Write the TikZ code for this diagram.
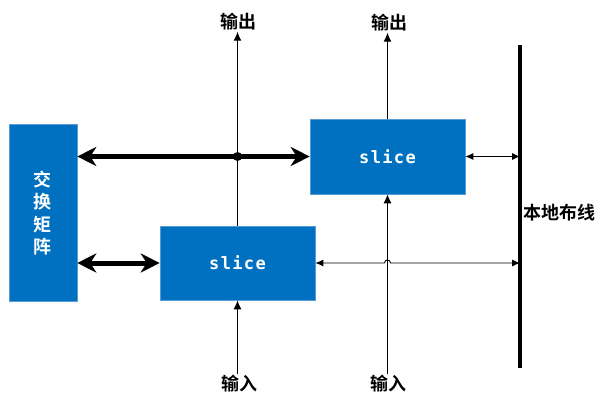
\documentclass[tikz,border=0pt]{standalone}
\usepackage{fontspec}
\newfontfamily\cjk{Noto Sans CJK SC}[BoldFont={* Bold}]
\newfontfamily\slicefont{DejaVu Sans Mono}[LetterSpace=8]
\usetikzlibrary{arrows.meta,positioning}
\definecolor{boxblue}{RGB}{0,112,192}
\definecolor{boxedge}{RGB}{91,155,213}
\tikzset{
  block/.style={fill=boxblue,draw=boxedge,line width=0.6pt,text=white,inner sep=0pt},
  lbl/.style={font=\cjk\bfseries\fontsize{18}{18}\selectfont,inner sep=1pt},
  thin/.style={line width=1.1pt,-{Latex[length=9pt,width=8pt]}},
  thick/.style={line width=5pt,{Stealth[length=19pt,width=19pt,inset=6pt]}-{Stealth[length=19pt,width=19pt,inset=6pt]}}
}
\begin{document}
\begin{tikzpicture}[x=1pt,y=-1pt]
\useasboundingbox (0,0) rectangle (611,396);
% blocks
\node[block,minimum width=68pt,minimum height=177pt,
  font=\cjk\bfseries\fontsize{18}{22.5}\selectfont,align=center] (xbar) at (43,213) {交\\换\\矩\\阵};
\node[block,minimum width=155pt,minimum height=74pt,
  font=\slicefont\bfseries\fontsize{17}{17}\selectfont] (sliceA) at (237.5,263) {slice};
\node[block,minimum width=155pt,minimum height=75pt,
  font=\slicefont\bfseries\fontsize{17}{17}\selectfont] (sliceB) at (387.5,156.5) {slice};
% local routing bus
\coordinate (busT) at (520,45);
\coordinate (busB) at (520,368);
\draw[line width=3.5pt] (busT) -- (busB);
\node[lbl,anchor=west] (busl) at (522,213) {本地布线};
% inputs and outputs
\node[lbl] (inA) at (239,384) {输入};
\node[lbl] (inB) at (388,384) {输入};
\node[lbl] (outA) at (238,22) {输出};
\node[lbl] (outB) at (389,23) {输出};
\draw[thin] (inA.north -| sliceA.south) -- (sliceA.south);
\draw[thin] (inB.north -| sliceB.south) -- (sliceB.south);
\draw[thin] (sliceA.north) -- (outA.south -| sliceA.north);
\draw[thin] (sliceB.north) -- (outB.south -| sliceB.north);
% links to the switch matrix
\draw[thick] (xbar.east |- sliceB.west) -- (sliceB.west);
\draw[thick] (xbar.east |- sliceA.west) -- (sliceA.west);
\fill (sliceA.north |- sliceB.west) circle (4.5pt);
% links to the bus
\draw[thin,{Latex[length=8pt,width=7pt]}-{Latex[length=8pt,width=7pt]},line width=0.9pt]
  (sliceB.east) -- (sliceB.east -| busT);
\draw[thin,{Latex[length=8pt,width=7pt]}-{Latex[length=8pt,width=7pt]},line width=0.9pt]
  (sliceA.east) -- ([xshift=-3pt]sliceB.south |- sliceA.east)
  arc[start angle=180,end angle=0,radius=3pt] -- (sliceA.east -| busT);
\end{tikzpicture}
\end{document}
